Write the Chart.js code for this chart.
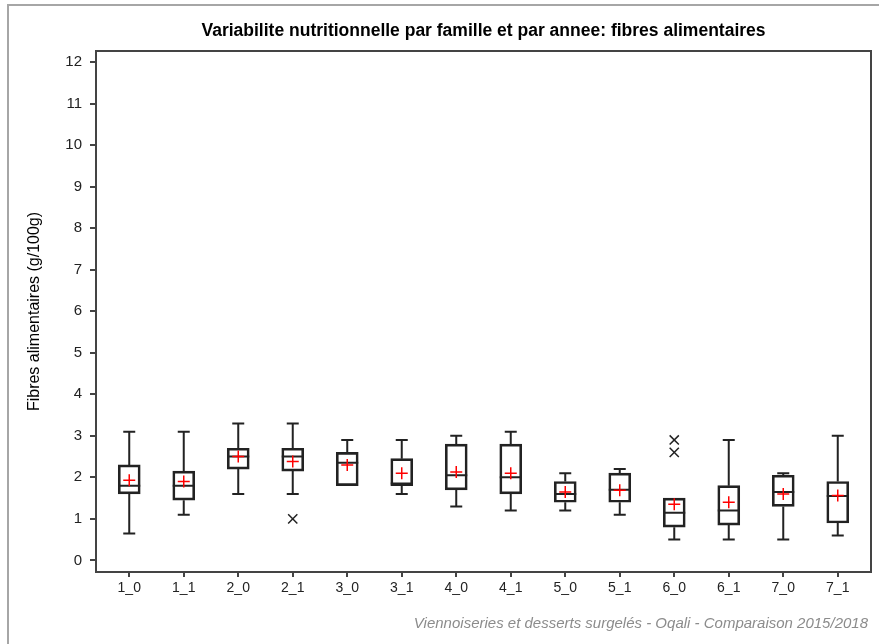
<!DOCTYPE html>
<html>
<head>
<meta charset="utf-8">
<script src="https://cdn.jsdelivr.net/npm/chart.js@4.4.1/dist/chart.umd.min.js"></script>
<style>
  html, body { margin: 0; padding: 0; background: #fff; }
  #wrap { width: 879px; height: 644px; position: relative; }
</style>
</head>
<body>
<div id="wrap"><canvas id="c" width="879" height="644"></canvas></div>
<script>
const categories = ['1_0','1_1','2_0','2_1','3_0','3_1','4_0','4_1','5_0','5_1','6_0','6_1','7_0','7_1'];
const whiskerLow  = [0.65, 1.1, 1.6, 1.6, 1.8, 1.6, 1.3, 1.2, 1.2, 1.1, 0.5, 0.5, 0.5, 0.6];
const q1Values    = [1.6, 1.45, 2.2, 2.15, 1.8, 1.8, 1.7, 1.6, 1.4, 1.4, 0.8, 0.85, 1.3, 0.9];
const medianValues= [1.8, 1.8, 2.5, 2.5, 2.35, 1.85, 2.05, 2.0, 1.6, 1.7, 1.15, 1.2, 1.65, 1.55];
const q3Values    = [2.3, 2.15, 2.7, 2.7, 2.6, 2.45, 2.8, 2.8, 1.9, 2.1, 1.5, 1.8, 2.05, 1.9];
const whiskerHigh = [3.1, 3.1, 3.3, 3.3, 2.9, 2.9, 3.0, 3.1, 2.1, 2.2, 1.5, 2.9, 2.1, 3.0];
const meanValues  = [1.93, 1.9, 2.5, 2.38, 2.3, 2.1, 2.13, 2.1, 1.65, 1.69, 1.35, 1.4, 1.6, 1.56];
const outlierCategories = ['2_1', '6_0', '6_0'];
const outlierValues     = [1.0, 2.6, 2.9];
const yTickValues = [0,1,2,3,4,5,6,7,8,9,10,11,12];

const titleText = 'Variabilite nutritionnelle par famille et par annee: fibres alimentaires';
const footerText = 'Viennoiseries et desserts surgelés - Oqali - Comparaison 2015/2018';
const yTitle = 'Fibres alimentaires (g/100g)';

const boxData = categories.map((c, i) => ({ x: i, y: [q1Values[i], q3Values[i]] }));
const meanData = categories.map((c, i) => ({ x: i, y: meanValues[i] }));
const outlierData = outlierCategories.map((c, i) => ({ x: categories.indexOf(c), y: outlierValues[i] }));

const FONT = '"Liberation Sans", Arial, sans-serif';

const boxPlugin = {
  id: 'boxParts',
  beforeDatasetsDraw(chart) {
    const ctx = chart.ctx, xs = chart.scales.x, ys = chart.scales.y;
    ctx.save();
    ctx.strokeStyle = '#222';
    ctx.lineWidth = 2;
    categories.forEach((c, i) => {
      const x = xs.getPixelForValue(i);
      const yLo = ys.getPixelForValue(whiskerLow[i]);
      const yQ1 = ys.getPixelForValue(q1Values[i]);
      const yQ3 = ys.getPixelForValue(q3Values[i]);
      const yHi = ys.getPixelForValue(whiskerHigh[i]);
      const yMed = ys.getPixelForValue(medianValues[i]);
      ctx.beginPath();
      if (whiskerHigh[i] > q3Values[i]) {
        ctx.moveTo(x, yQ3); ctx.lineTo(x, yHi);
        ctx.moveTo(x - 6, yHi); ctx.lineTo(x + 6, yHi);
      }
      if (whiskerLow[i] < q1Values[i]) {
        ctx.moveTo(x, yQ1); ctx.lineTo(x, yLo);
        ctx.moveTo(x - 6, yLo); ctx.lineTo(x + 6, yLo);
      }
      ctx.moveTo(x - 11, yMed); ctx.lineTo(x + 11, yMed);
      ctx.stroke();
    });
    ctx.restore();
  },
  afterDraw(chart) {
    const ctx = chart.ctx, a = chart.chartArea;
    ctx.save();
    ctx.strokeStyle = '#444';
    ctx.lineWidth = 2;
    ctx.strokeRect(a.left, a.top, a.right - a.left, a.bottom - a.top);
    ctx.strokeStyle = '#a6a6a6';
    ctx.lineWidth = 2;
    ctx.beginPath();
    ctx.moveTo(8, 644); ctx.lineTo(8, 5); ctx.lineTo(879, 5);
    ctx.stroke();
    ctx.fillStyle = '#000';
    ctx.font = 'bold 17.5px ' + FONT;
    ctx.textAlign = 'center';
    ctx.textBaseline = 'middle';
    ctx.fillText(titleText, (a.left + a.right) / 2, 31);
    ctx.fillStyle = '#8c8c8c';
    ctx.font = 'italic 15px ' + FONT;
    ctx.textAlign = 'right';
    ctx.fillText(footerText, 868, 624);
    ctx.restore();
  }
};

new Chart(document.getElementById('c'), {
  data: {
    datasets: [
      {
        type: 'bar',
        data: boxData,
        backgroundColor: 'rgba(0,0,0,0)',
        borderColor: '#222',
        borderWidth: 2,
        borderSkipped: false,
        barThickness: 22,
        order: 3
      },
      {
        type: 'scatter',
        data: meanData,
        pointStyle: 'cross',
        radius: 6,
        borderColor: '#ff0000',
        backgroundColor: '#ff0000',
        borderWidth: 1.5,
        order: 1
      },
      {
        type: 'scatter',
        data: outlierData,
        pointStyle: 'crossRot',
        radius: 6.5,
        borderColor: '#222',
        backgroundColor: '#222',
        borderWidth: 1.5,
        order: 2
      }
    ]
  },
  options: {
    responsive: false,
    animation: false,
    layout: { padding: { top: 51, right: 6, bottom: 42, left: 0 } },
    plugins: { legend: { display: false }, tooltip: { enabled: false }, title: { display: false } },
    scales: {
      x: {
        type: 'linear',
        offset: false,
        min: -0.61,
        max: 13.61,
        afterBuildTicks(scale) { scale.ticks = categories.map((c, i) => ({ value: i })); },
        afterFit(scale) { scale.height = 30; },
        ticks: {
          callback: (v) => categories[v],
          color: '#222',
          font: { family: FONT, size: 14 },
          padding: 3,
          maxRotation: 0,
          autoSkip: false
        },
        grid: { offset: false, drawOnChartArea: false, drawTicks: true, tickLength: 5, color: '#444', lineWidth: 2 },
        border: { display: true, color: '#444', width: 2 }
      },
      y: {
        type: 'linear',
        min: -0.28,
        max: 12.27,
        afterBuildTicks(scale) { scale.ticks = yTickValues.map(v => ({ value: v })); },
        afterFit(scale) { scale.width = 96; },
        ticks: {
          color: '#222',
          font: { family: FONT, size: 15 },
          padding: 8
        },
        title: {
          display: true,
          text: yTitle,
          color: '#000',
          font: { family: FONT, size: 16 },
          padding: { top: 25, bottom: 0 }
        },
        grid: { drawOnChartArea: false, drawTicks: true, tickLength: 6, color: '#444', lineWidth: 2 },
        border: { display: true, color: '#444', width: 2 }
      }
    }
  },
  plugins: [boxPlugin]
});
</script>
</body>
</html>
